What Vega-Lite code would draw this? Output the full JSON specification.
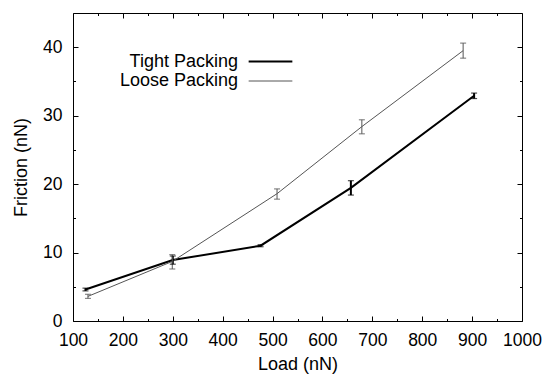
{
  "$schema": "https://vega.github.io/schema/vega-lite/v6.json",
  "width": 449,
  "height": 308,
  "autosize": {"type": "none"},
  "padding": {"left": 73, "top": 13, "right": 23, "bottom": 56},
  "background": "white",
  "config": {
    "view": {"stroke": "black", "strokeWidth": 1},
    "font": "Liberation Sans",
    "axis": {
      "labelFont": "Liberation Sans", "labelFontSize": 17.5, "labelColor": "black", "labelOverlap": false, "labelFlush": false, "labelBound": false,
      "titleFont": "Liberation Sans", "titleFontSize": 18, "titleColor": "black", "titleFontWeight": "normal",
      "domain": false, "grid": false, "tickColor": "black", "tickWidth": 1
    }
  },
  "data": {"values": [
    {"series": "Tight Packing", "load": 125, "friction": 4.6, "lo": 4.4, "hi": 4.8},
    {"series": "Tight Packing", "load": 300, "friction": 8.9, "lo": 8.3, "hi": 9.5},
    {"series": "Tight Packing", "load": 476, "friction": 11.0, "lo": 10.85, "hi": 11.15},
    {"series": "Tight Packing", "load": 657, "friction": 19.45, "lo": 18.4, "hi": 20.5},
    {"series": "Tight Packing", "load": 904, "friction": 32.9, "lo": 32.5, "hi": 33.3},
    {"series": "Loose Packing", "load": 130, "friction": 3.6, "lo": 3.3, "hi": 3.9},
    {"series": "Loose Packing", "load": 299, "friction": 8.7, "lo": 7.6, "hi": 9.7},
    {"series": "Loose Packing", "load": 509, "friction": 18.6, "lo": 17.8, "hi": 19.3},
    {"series": "Loose Packing", "load": 679, "friction": 28.4, "lo": 27.35, "hi": 29.4},
    {"series": "Loose Packing", "load": 882, "friction": 39.5, "lo": 38.4, "hi": 40.6}
  ]},
  "resolve": {"axis": {"x": "independent", "y": "independent"}},
  "layer": [
    {
      "mark": {"type": "line", "clip": true},
      "encoding": {
        "x": {"field": "load", "type": "quantitative",
          "scale": {"domain": [100, 1000], "nice": false, "zero": false},
          "axis": {"title": "Load (nN)", "values": [100,200,300,400,500,600,700,800,900,1000], "format": "d", "tickSize": -5, "labelPadding": 15, "titlePadding": 7}},
        "y": {"field": "friction", "type": "quantitative",
          "scale": {"domain": [0, 45], "nice": false},
          "axis": {"title": "Friction (nN)", "values": [0,10,20,30,40], "tickSize": -5, "labelPadding": 16, "titlePadding": 12}},
        "color": {"field": "series", "type": "nominal",
          "scale": {"domain": ["Tight Packing", "Loose Packing"], "range": ["#000000", "#555555"]},
          "legend": {
            "orient": "none", "legendX": 187, "legendY": 38, "title": null,
            "symbolType": "M-2.3,0H2.3", "symbolSize": 361, "symbolFillColor": "transparent",
            "labelAlign": "right", "labelOffset": -43,
            "labelFont": "Liberation Sans", "labelFontSize": 18, "labelColor": "black",
            "padding": 0, "rowPadding": 0,
            "encode": {"symbols": {"update": {"strokeWidth": {"signal": "datum.value === 'Tight Packing' ? 2 : 1"}}}}
          }},
        "strokeWidth": {"field": "series", "type": "nominal",
          "scale": {"domain": ["Tight Packing", "Loose Packing"], "range": [2, 1]}, "legend": null}
      }
    },
    {
      "mark": {"type": "rule"},
      "encoding": {
        "x": {"field": "load", "type": "quantitative",
          "axis": {"orient": "top", "labels": false, "title": null, "values": [100,200,300,400,500,600,700,800,900,1000], "tickSize": -5}},
        "y": {"field": "lo", "type": "quantitative",
          "axis": {"orient": "right", "labels": false, "title": null, "values": [0,10,20,30,40], "tickSize": -5}},
        "y2": {"field": "hi"},
        "color": {"field": "series", "type": "nominal"},
        "strokeWidth": {"field": "series", "type": "nominal", "legend": null}
      }
    },
    {
      "mark": {"type": "tick", "orient": "horizontal", "size": 6, "thickness": 1.2},
      "encoding": {
        "x": {"field": "load", "type": "quantitative",
          "axis": {"orient": "bottom", "labels": false, "title": null, "values": [150,250,350,450,550,650,750,850,950], "tickSize": -2.5}},
        "y": {"field": "lo", "type": "quantitative",
          "axis": {"orient": "left", "labels": false, "title": null, "values": [5,15,25,35], "tickSize": -2.5}},
        "color": {"field": "series", "type": "nominal"}
      }
    },
    {
      "mark": {"type": "tick", "orient": "horizontal", "size": 6, "thickness": 1.2},
      "encoding": {
        "x": {"field": "load", "type": "quantitative",
          "axis": {"orient": "top", "labels": false, "title": null, "values": [150,250,350,450,550,650,750,850,950], "tickSize": -2.5}},
        "y": {"field": "hi", "type": "quantitative",
          "axis": {"orient": "right", "labels": false, "title": null, "values": [5,15,25,35], "tickSize": -2.5}},
        "color": {"field": "series", "type": "nominal"}
      }
    }
  ]
}
